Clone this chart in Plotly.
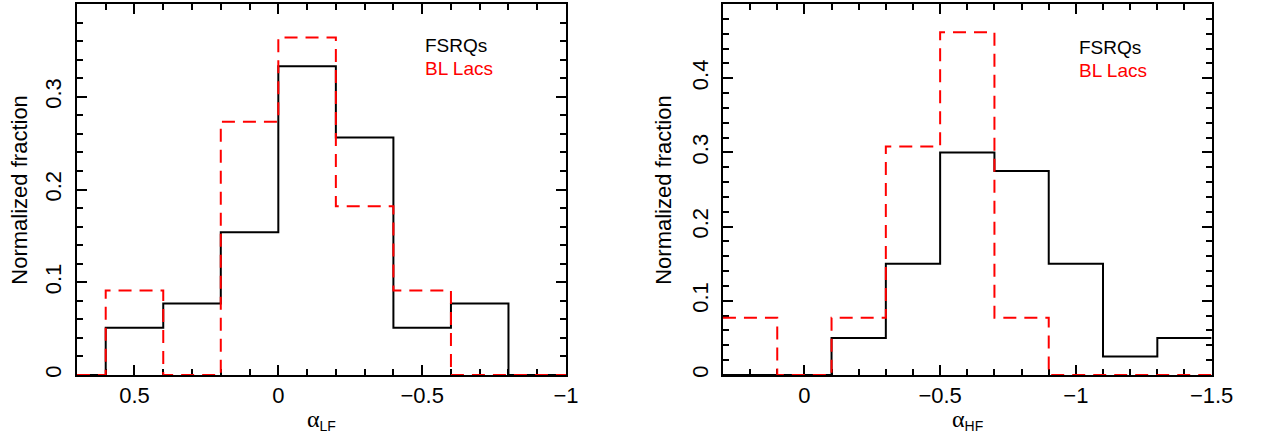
import plotly.graph_objects as go

# ---- data ----
lf_edges_fsrq = [0.7, 0.6, 0.4, 0.2, 0.0, -0.2, -0.4, -0.6, -0.8, -1.0]
lf_fsrq = [0.0, 0.051, 0.077, 0.154, 0.333, 0.256, 0.051, 0.077, 0.0]
lf_edges_bll = [0.7, 0.6, 0.4, 0.2, 0.0, -0.2, -0.4, -0.6, -1.0]
lf_bll = [0.0, 0.091, 0.0, 0.273, 0.364, 0.182, 0.091, 0.0]

hf_edges_fsrq = [0.3, 0.1, -0.1, -0.3, -0.5, -0.7, -0.9, -1.1, -1.3, -1.5]
hf_fsrq = [0.0, 0.0, 0.050, 0.150, 0.300, 0.275, 0.150, 0.025, 0.050]
hf_edges_bll = [0.3, 0.1, -0.1, -0.3, -0.5, -0.7, -0.9, -1.5]
hf_bll = [0.077, 0.0, 0.077, 0.308, 0.462, 0.077, 0.0]

lf_xticks = [0.5, 0, -0.5, -1]
hf_xticks = [0, -0.5, -1, -1.5]
lf_yticks = [0, 0.1, 0.2, 0.3]
hf_yticks = [0, 0.1, 0.2, 0.3, 0.4]

series_names = ["FSRQs", "BL Lacs"]
y_title = "Normalized fraction"
x_subs = ["LF", "HF"]

FONT = "Liberation Sans, Arial, Helvetica, sans-serif"
SERIF = "Liberation Serif, Times New Roman, serif"
W, H = 1269, 439
MT, MB = 4, 64
PLOT_H = H - MT - MB


def steps(edges, vals):
    return list(edges), list(vals) + [vals[-1]]


def py(pixel_y):
    # pixel row -> paper y (paper spans the plot rows between margins)
    return (H - MB - pixel_y) / PLOT_H


fig = go.Figure()

for edges, vals, xa, ya, color, dash, name in [
    (lf_edges_fsrq, lf_fsrq, "x", "y", "black", "solid", series_names[0]),
    (lf_edges_bll, lf_bll, "x", "y", "#ff0000", "13px,8px", series_names[1]),
    (hf_edges_fsrq, hf_fsrq, "x2", "y2", "black", "solid", series_names[0]),
    (hf_edges_bll, hf_bll, "x2", "y2", "#ff0000", "13px,8px", series_names[1]),
]:
    xs, ys = steps(edges, vals)
    fig.add_trace(go.Scatter(x=xs, y=ys, mode="lines", line_shape="hv",
                             line=dict(color=color, width=2, dash=dash),
                             xaxis=xa, yaxis=ya, name=name, showlegend=False,
                             hoverinfo="skip"))

axis_common = dict(showline=True, linecolor="black", linewidth=2, mirror="ticks",
                   ticks="inside", ticklen=10, tickwidth=1.5, tickcolor="black",
                   showgrid=False, zeroline=False, layer="below traces",
                   tickfont=dict(family=FONT, size=22, color="black"))

minor_x = dict(ticks="inside", ticklen=6, dtick=0.1, tickwidth=1.5, tickcolor="black", showgrid=False)
minor_y = dict(ticks="inside", ticklen=6, dtick=0.02, tickwidth=1.5, tickcolor="black", showgrid=False)

fig.update_layout(
    width=W, height=H,
    margin=dict(l=0, r=0, t=MT, b=MB),
    paper_bgcolor="white", plot_bgcolor="white",
    showlegend=False,
    xaxis=dict(domain=[78.3 / W, 576.0 / W], range=[0.7, -1.0], tickvals=lf_xticks,
               minor=minor_x, anchor="y", **axis_common),
    yaxis=dict(domain=[0, 1], range=[0, 0.4], tickvals=lf_yticks, tickangle=-90,
               ticklabelstandoff=5, minor=minor_y, anchor="x", **axis_common),
    xaxis2=dict(domain=[735.7 / W, 1233.0 / W], range=[0.3, -1.5], tickvals=hf_xticks,
                minor=minor_x, anchor="y2", **axis_common),
    yaxis2=dict(domain=[0, 1], range=[0, 0.5], tickvals=hf_yticks, tickangle=-90,
                ticklabelstandoff=4, minor=minor_y, anchor="x2", **axis_common),
)

# axis titles
for xc, sub in [(327.5 / W, x_subs[0]), (984.5 / W, x_subs[1])]:
    fig.add_annotation(
        text=(f"<span style='font-family:{SERIF};font-size:24px'>α</span>"
              f"<sub><span style='font-size:14px'>{sub}</span></sub>"),
        xref="paper", yref="paper", x=xc, y=py(420), xanchor="center", yanchor="middle",
        showarrow=False, font=dict(family=FONT, size=20, color="black"))

for xc in [19.5 / W, 675.0 / W]:
    fig.add_annotation(text=y_title, textangle=-90, xref="paper", yref="paper",
                       x=xc, y=0.5, xanchor="center", yanchor="middle", showarrow=False,
                       font=dict(family=FONT, size=22, color="black"))

# in-plot labels
for x0, y1, y2 in [(430.0 / W, py(45.5), py(68.5)), (1096.0 / W, py(47.5), py(70.0))]:
    fig.add_annotation(text=series_names[0], xref="paper", yref="paper", x=x0, y=y1,
                       xanchor="left", yanchor="middle", showarrow=False,
                       font=dict(family=FONT, size=19, color="black"))
    fig.add_annotation(text=series_names[1], xref="paper", yref="paper", x=x0, y=y2,
                       xanchor="left", yanchor="middle", showarrow=False,
                       font=dict(family=FONT, size=19, color="#ff0000"))

fig.write_html(
    "out.html",
    config={"displayModeBar": False, "responsive": False},
    post_script=("document.documentElement.style.margin='0';"
                 "document.body.style.margin='0';"
                 "document.documentElement.style.overflow='hidden';"
                 "document.body.style.overflow='hidden';"),
)
